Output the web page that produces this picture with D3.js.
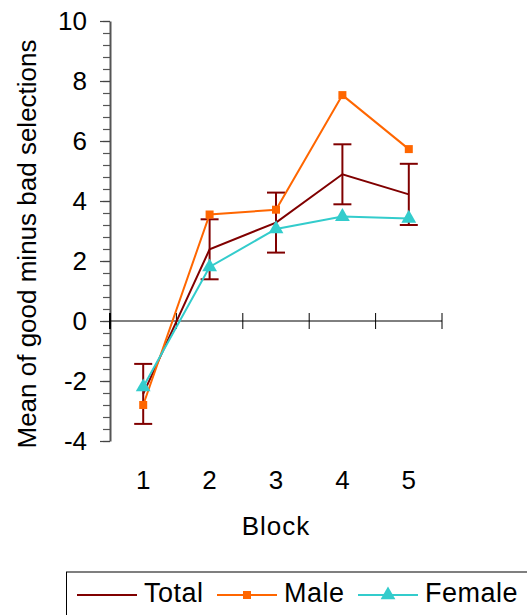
<!DOCTYPE html>
<html>
<head>
<meta charset="utf-8">
<script src="https://cdn.jsdelivr.net/npm/d3@7"></script>
<style>
  body { margin: 0; background: #fff; }
  text { font-family: "Liberation Sans", Arial, sans-serif; fill: #000; }
</style>
</head>
<body>
<div id="chart"></div>
<script>
// values
var blocks = ["1", "2", "3", "4", "5"];
var total = [-2.43, 2.39, 3.28, 4.89, 4.22];
var totalErr = [1.0, 1.0, 1.0, 1.0, 1.02];
var male = [-2.8, 3.55, 3.71, 7.53, 5.73];
var female = [-2.2, 1.8, 3.07, 3.48, 3.42];
var yMajor = [-4, -2, 0, 2, 4, 6, 8, 10];

var width = 527, height = 615;

var svg = d3.select('#chart')
    .append('svg')
    .attr('width', width)
    .attr('height', height);

var x_scale = d3.scaleBand()
    .domain(blocks)
    .range([110, 442]);

var y_scale = d3.scaleLinear()
    .domain([-4, 10])
    .range([441, 21]);

// minor ticks every 0.4
var minor = d3.range(-4, 10.001, 0.4).map(function (v) { return Math.round(v * 10) / 10; });

svg.append('g')
    .attr('transform', 'translate(110,0)')
    .call(d3.axisLeft(y_scale).tickValues(minor).tickSize(7).tickFormat(''))
    .call(function (g) {
        g.select('.domain').remove();
        g.selectAll('line').attr('stroke', '#555').attr('stroke-width', 1.2);
    });

var y_axis = svg.append('g')
    .attr('transform', 'translate(110,0)')
    .call(d3.axisLeft(y_scale).tickValues(yMajor).tickSize(10).tickPadding(13).tickSizeOuter(0)
        .tickFormat(function (d) { return String(d); }));

y_axis.select('.domain').attr('stroke', '#555').attr('stroke-width', 2);
y_axis.selectAll('line').attr('stroke', '#444').attr('stroke-width', 1.2);
y_axis.selectAll('text')
    .attr('font-size', '26px')
    .attr('font-family', '"Liberation Sans", Arial, sans-serif')
    .attr('fill', '#000');

// x axis sits on zero, ticks between categories
var bounds = blocks.map(function (b) { return x_scale(b); }).concat([x_scale.range()[1]]);

svg.append('line')
    .attr('x1', x_scale.range()[0])
    .attr('x2', x_scale.range()[1])
    .attr('y1', y_scale(0))
    .attr('y2', y_scale(0))
    .attr('stroke', '#000')
    .attr('stroke-width', 1);

svg.selectAll('.xtick')
    .data(bounds)
    .enter()
    .append('line')
    .attr('class', 'xtick')
    .attr('x1', function (d) { return d; })
    .attr('x2', function (d) { return d; })
    .attr('y1', y_scale(0) - 8)
    .attr('y2', y_scale(0) + 8)
    .attr('stroke', '#000')
    .attr('stroke-width', function (d, i) { return i === 0 ? 2 : 1; });

svg.selectAll('.xlabel')
    .data(blocks)
    .enter()
    .append('text')
    .attr('class', 'xlabel')
    .attr('x', function (d) { return x_scale(d) + x_scale.bandwidth() / 2; })
    .attr('y', 489)
    .attr('text-anchor', 'middle')
    .attr('font-size', '26px')
    .text(function (d) { return d; });

svg.append('text')
    .attr('x', 276)
    .attr('y', 535)
    .attr('text-anchor', 'middle')
    .attr('font-size', '26px')
    .style('letter-spacing', '1px')
    .text('Block');

svg.append('text')
    .attr('transform', 'translate(36,244) rotate(-90)')
    .attr('text-anchor', 'middle')
    .attr('font-size', '26px')
    .text('Mean of good minus bad selections');

function cx(d, i) { return x_scale(blocks[i]) + x_scale.bandwidth() / 2; }

var line = d3.line()
    .x(function (d, i) { return cx(d, i); })
    .y(function (d) { return y_scale(d); });

// total with error bars
svg.append('path')
    .datum(total)
    .attr('d', line)
    .attr('fill', 'none')
    .attr('stroke', '#800000')
    .attr('stroke-width', 2);

var err = svg.selectAll('.err')
    .data(total)
    .enter()
    .append('g')
    .attr('class', 'err')
    .attr('stroke', '#800000')
    .attr('stroke-width', 2);

err.append('line')
    .attr('x1', cx).attr('x2', cx)
    .attr('y1', function (d, i) { return y_scale(d + totalErr[i]); })
    .attr('y2', function (d, i) { return y_scale(d - totalErr[i]); });

err.append('line')
    .attr('x1', function (d, i) { return cx(d, i) - 9; })
    .attr('x2', function (d, i) { return cx(d, i) + 9; })
    .attr('y1', function (d, i) { return y_scale(d + totalErr[i]); })
    .attr('y2', function (d, i) { return y_scale(d + totalErr[i]); });

err.append('line')
    .attr('x1', function (d, i) { return cx(d, i) - 9; })
    .attr('x2', function (d, i) { return cx(d, i) + 9; })
    .attr('y1', function (d, i) { return y_scale(d - totalErr[i]); })
    .attr('y2', function (d, i) { return y_scale(d - totalErr[i]); });

// male
svg.append('path')
    .datum(male)
    .attr('d', line)
    .attr('fill', 'none')
    .attr('stroke', '#FF6600')
    .attr('stroke-width', 2);

svg.selectAll('.msq')
    .data(male)
    .enter()
    .append('rect')
    .attr('class', 'msq')
    .attr('x', function (d, i) { return cx(d, i) - 4; })
    .attr('y', function (d) { return y_scale(d) - 4; })
    .attr('width', 8)
    .attr('height', 8)
    .attr('fill', '#FF6600');

// female
svg.append('path')
    .datum(female)
    .attr('d', line)
    .attr('fill', 'none')
    .attr('stroke', '#33CCCC')
    .attr('stroke-width', 2);

var tri = d3.symbol().type(d3.symbolTriangle).size(95);

svg.selectAll('.ftri')
    .data(female)
    .enter()
    .append('path')
    .attr('class', 'ftri')
    .attr('d', tri)
    .attr('transform', function (d, i) { return 'translate(' + cx(d, i) + ',' + y_scale(d) + ')'; })
    .attr('fill', '#33CCCC');

// legend
var legend = svg.append('g');

legend.append('rect')
    .attr('x', 66.5)
    .attr('y', 572)
    .attr('width', 470)
    .attr('height', 60)
    .attr('fill', '#fff')
    .attr('stroke', '#000')
    .attr('stroke-width', 1);

var legendItems = [
    {name: 'Total', color: '#800000', x: 77, marker: null},
    {name: 'Male', color: '#FF6600', x: 217, marker: 'square'},
    {name: 'Female', color: '#33CCCC', x: 358, marker: 'triangle'}
];

legendItems.forEach(function (d) {
    legend.append('line')
        .attr('x1', d.x).attr('x2', d.x + 60)
        .attr('y1', 595).attr('y2', 595)
        .attr('stroke', d.color)
        .attr('stroke-width', 2);
    if (d.marker === 'square') {
        legend.append('rect')
            .attr('x', d.x + 30 - 4).attr('y', 591)
            .attr('width', 8).attr('height', 8)
            .attr('fill', d.color);
    } else if (d.marker === 'triangle') {
        legend.append('path')
            .attr('d', tri)
            .attr('transform', 'translate(' + (d.x + 30) + ',595)')
            .attr('fill', d.color);
    }
    legend.append('text')
        .attr('x', d.x + 67)
        .attr('y', 602)
        .attr('font-size', '27px')
        .style('letter-spacing', '0.5px')
        .text(d.name);
});
</script>
</body>
</html>
